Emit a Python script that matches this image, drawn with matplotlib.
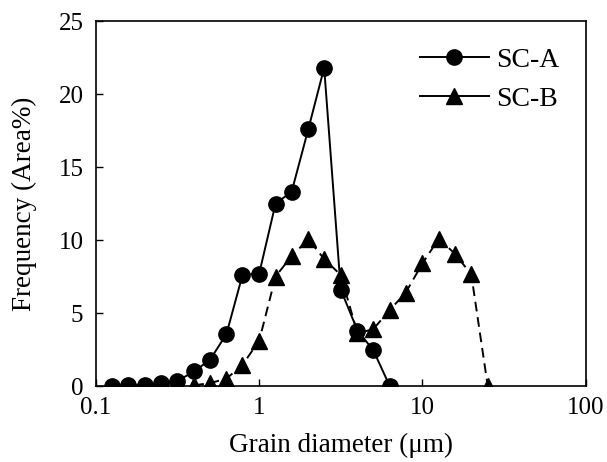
import matplotlib

matplotlib.use("Agg")
import matplotlib.pyplot as plt
from matplotlib.ticker import FixedLocator, NullLocator

plt.rcParams["font.family"] = ["Liberation Serif", "DejaVu Serif"]

# grain size distribution
sc_a_x = [0.125, 0.158, 0.2, 0.25, 0.316, 0.4, 0.5, 0.63, 0.79, 1.0, 1.26, 1.58, 2.0, 2.5, 3.16, 4.0, 5.0, 6.3]
sc_a_y = [0.0, 0.05, 0.1, 0.2, 0.35, 1.0, 1.8, 3.55, 7.6, 7.7, 12.5, 13.3, 17.6, 21.8, 6.6, 3.8, 2.45, 0.0]

sc_b_x = [0.4, 0.5, 0.63, 0.79, 1.0, 1.26, 1.58, 2.0, 2.5, 3.16, 4.0, 5.0, 6.3, 7.9, 10.0, 12.6, 15.8, 19.9, 25.1]
sc_b_y = [0.05, 0.2, 0.5, 1.45, 3.1, 7.5, 8.9, 10.05, 8.7, 7.6, 3.6, 3.9, 5.2, 6.4, 8.4, 10.1, 9.05, 7.65, 0.0]

x_ticks = [0.1, 1, 10, 100]
x_tick_labels = ["0.1", "1", "10", "100"]
y_ticks = [0, 5, 10, 15, 20, 25]

fig = plt.figure(figsize=(6.07, 4.62), dpi=100)
ax = fig.add_axes([0.158, 0.1645, 0.807, 0.79])

ax.plot(sc_a_x, sc_a_y, color="black", linewidth=1.4, marker="o", markersize=11, label="SC-A")
ax.plot(sc_b_x, sc_b_y, color="black", linewidth=1.4, linestyle=(0, (5, 3)), marker="^", markersize=11,
        label="SC-B")

ax.set_xscale("log")
ax.set_xlim(0.1, 100)
ax.set_ylim(0, 25)
ax.xaxis.set_major_locator(FixedLocator(x_ticks))
ax.xaxis.set_minor_locator(NullLocator())
ax.set_xticklabels(x_tick_labels)
ax.set_yticks(y_ticks)
ax.tick_params(direction="in", length=5, width=1, labelsize=18)
ax.tick_params(axis="y", pad=9)
ax.tick_params(axis="x", pad=8)

for spine in ax.spines.values():
    spine.set_linewidth(1.2)

ax.set_xlabel("Grain diameter (μm)", fontsize=19.5)
ax.set_ylabel("Frequency (Area%)", fontsize=19.5)
ax.xaxis.set_label_coords(0.5, -0.128)
ax.yaxis.set_label_coords(-0.12, 0.5)

leg = ax.legend(loc="upper right", frameon=False, fontsize=20, numpoints=1, handlelength=2.5,
                handletextpad=0.25, labelspacing=0.5, borderaxespad=0.55)
for line in leg.get_lines():
    line.set_linestyle("-")

fig.savefig("out.png", dpi=100)
